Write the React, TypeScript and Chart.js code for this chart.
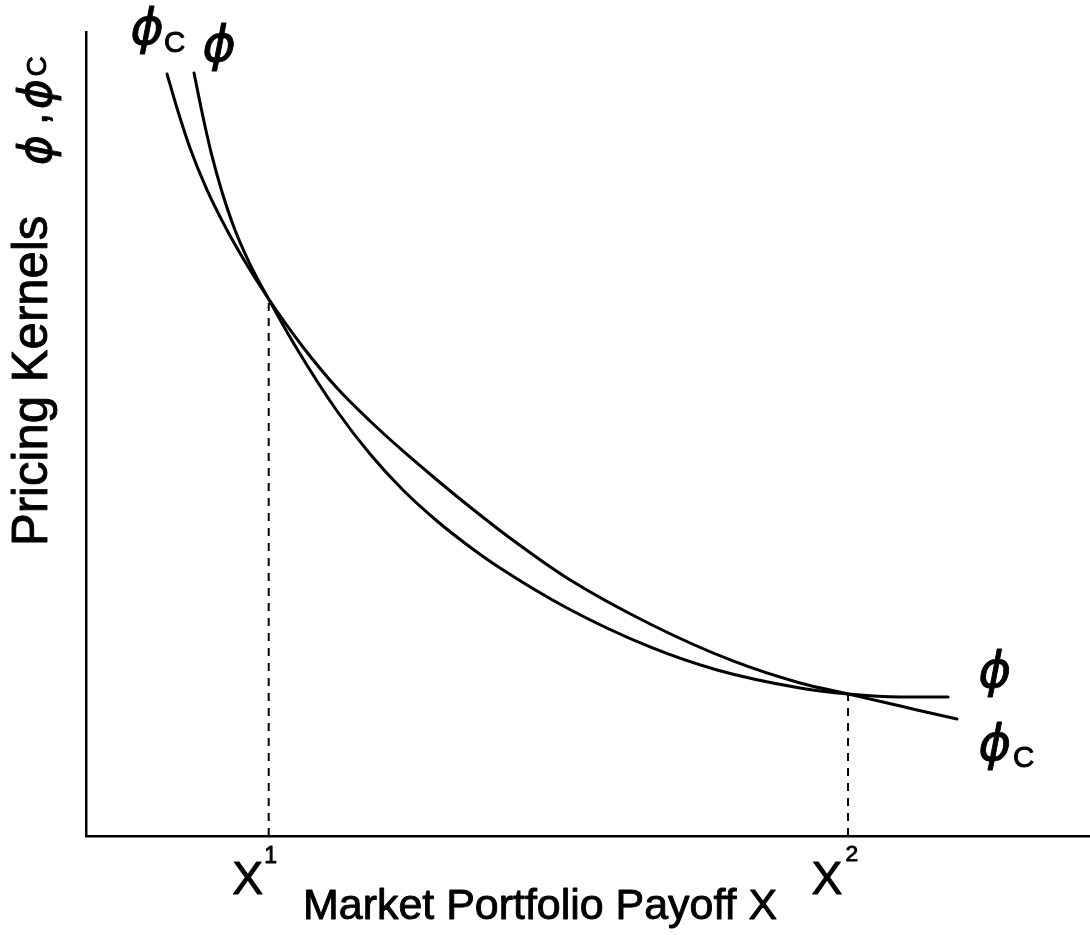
import React, { useEffect, useRef } from "react";
import { Chart, registerables } from "chart.js";

Chart.register(...registerables);

// Market portfolio payoff X (axis units 0..100) and kernel values (0..100)
const phiX = [10.76, 11.55, 12.45, 13.55, 14.84, 16.33, 18.13, 21.02, 25.0, 28.29, 31.57, 34.96, 38.25, 41.24, 47.91, 56.18, 62.85, 71.12, 75.9, 81.08, 85.86];
const phiY = [94.9, 90.05, 85.07, 80.1, 75.37, 71.14, 66.92, 60.57, 52.86, 47.51, 43.03, 39.18, 35.95, 33.33, 28.36, 23.51, 20.65, 18.41, 17.66, 17.29, 17.29];

const phiCX = [8.07, 9.06, 10.36, 12.05, 14.04, 16.04, 18.13, 21.61, 25.0, 28.29, 31.57, 34.96, 38.25, 42.23, 47.91, 56.18, 64.44, 71.12, 75.9, 79.38, 82.77, 86.75];
const phiCY = [94.78, 90.55, 85.57, 80.35, 75.37, 71.02, 66.92, 60.82, 55.72, 51.62, 47.89, 44.28, 40.92, 37.06, 32.09, 26.37, 21.77, 19.03, 17.66, 16.67, 15.67, 14.55];

// Crossing points X¹ and X² (drop lines)
const crossX = [18.2, 75.9];
const crossY = [66.9, 17.7];
const crossLabels = ["1", "2"];

const FONT = '"Liberation Sans", Arial, Helvetica, sans-serif';
const GREEK = '"DejaVu Sans", sans-serif';
const PHI = "\u03D5";

function paint(ctx: CanvasRenderingContext2D, text: string, x: number, y: number) {
  ctx.fillText(text, x, y);
  ctx.strokeText(text, x, y);
}

function fitHeight(ctx: CanvasRenderingContext2D, text: string, style: string, family: string, cx: number, top: number, height: number) {
  ctx.font = `${style} 100px ${family}`;
  const m = ctx.measureText(text);
  const bh = m.actualBoundingBoxAscent + m.actualBoundingBoxDescent;
  const size = (100 * height) / bh;
  ctx.font = `${style} ${size}px ${family}`;
  const m2 = ctx.measureText(text);
  const x = cx - (m2.actualBoundingBoxRight - m2.actualBoundingBoxLeft) / 2;
  const y = top + m2.actualBoundingBoxAscent;
  paint(ctx, text, x, y);
}

function fitWidth(ctx: CanvasRenderingContext2D, text: string, style: string, family: string, left: number, baseline: number, width: number) {
  ctx.font = `${style} 100px ${family}`;
  const m = ctx.measureText(text);
  const bw = m.actualBoundingBoxLeft + m.actualBoundingBoxRight;
  const size = (100 * width) / bw;
  ctx.font = `${style} ${size}px ${family}`;
  const m2 = ctx.measureText(text);
  paint(ctx, text, left + m2.actualBoundingBoxLeft, baseline);
}

const labelPlugin = {
  id: "kernelLabels",
  afterDraw(chart: any) {
    const ctx: CanvasRenderingContext2D = chart.ctx;
    const xs = chart.scales.x;
    ctx.save();
    ctx.fillStyle = "#000";
    ctx.strokeStyle = "#000";
    ctx.lineWidth = 0.9;
    ctx.lineJoin = "round";
    ctx.textAlign = "left";
    ctx.textBaseline = "alphabetic";

    // curve labels at top
    fitHeight(ctx, PHI, "oblique", GREEK, 147, 6, 49);
    fitHeight(ctx, "C", "normal", FONT, 175, 32, 21);
    fitHeight(ctx, PHI, "oblique", GREEK, 219, 23, 49);
    // curve labels at right
    fitHeight(ctx, PHI, "oblique", GREEK, 995, 649, 48);
    fitHeight(ctx, PHI, "oblique", GREEK, 995, 722, 48);
    fitHeight(ctx, "C", "normal", FONT, 1024, 747, 21);

    // X¹, X² under the axis
    crossX.forEach((v, i) => {
      const px = xs.getPixelForValue(v);
      fitHeight(ctx, "X", "normal", FONT, px - 21, 862, 32);
      fitHeight(ctx, crossLabels[i], "normal", FONT, px + (i === 0 ? 2 : 4), 846, 16);
    });

    // x-axis title
    fitWidth(ctx, "Market Portfolio Payoff X", "normal", FONT, 306, 919, 470);

    // y-axis title (rotated)
    ctx.save();
    ctx.rotate(-Math.PI / 2);
    fitWidth(ctx, "Pricing Kernels", "normal", FONT, -542, 47, 325);
    fitHeight(ctx, PHI, "oblique", GREEK, -150, 16, 44);
    ctx.font = `normal 44px ${FONT}`;
    paint(ctx, ",", -125, 47);
    fitHeight(ctx, PHI, "oblique", GREEK, -94, 16, 44);
    fitHeight(ctx, "C", "normal", FONT, -66, 27, 20);
    ctx.restore();

    ctx.restore();
  },
};

export default function App() {
  const ref = useRef<HTMLCanvasElement | null>(null);
  useEffect(() => {
    if (!ref.current) return;
    const line = (xs: number[], ys: number[]) => xs.map((x, i) => ({ x, y: ys[i] }));
    const drop = (i: number) => [
      { x: crossX[i], y: 0 },
      { x: crossX[i], y: crossY[i] },
    ];
    const curve = (label: string, xs: number[], ys: number[]) => ({
      label,
      data: line(xs, ys),
      showLine: true,
      borderColor: "#000",
      borderWidth: 3,
      pointRadius: 0,
      cubicInterpolationMode: "monotone",
      borderCapStyle: "round",
      borderJoinStyle: "round",
    });
    const dashed = (label: string, i: number) => ({
      label,
      data: drop(i),
      showLine: true,
      borderColor: "#000",
      borderWidth: 2,
      borderDash: [8, 7],
      pointRadius: 0,
    });
    const chart = new Chart(ref.current, {
      type: "scatter",
      data: {
        datasets: [curve("phi", phiX, phiY), curve("phiC", phiCX, phiCY), dashed("X1", 0), dashed("X2", 1)],
      } as any,
      options: {
        responsive: false,
        animation: false,
        events: [],
        layout: { padding: { left: 86, top: 32, right: 0, bottom: 99 } },
        plugins: { legend: { display: false }, tooltip: { enabled: false } },
        scales: {
          x: {
            type: "linear",
            min: 0,
            max: 100,
            grid: { display: false, drawTicks: false },
            ticks: { display: false },
            border: { display: true, color: "#000", width: 2.5 },
          },
          y: {
            type: "linear",
            min: 0,
            max: 100,
            grid: { display: false, drawTicks: false },
            ticks: { display: false },
            border: { display: true, color: "#000", width: 2.5 },
          },
        },
      } as any,
      plugins: [labelPlugin],
    });
    return () => chart.destroy();
  }, []);
  return (
    <div style={{ position: "absolute", left: 0, top: 0, width: 1090, height: 935, background: "#fff" }}>
      <canvas ref={ref} width={1090} height={935} style={{ display: "block" }} />
    </div>
  );
}
